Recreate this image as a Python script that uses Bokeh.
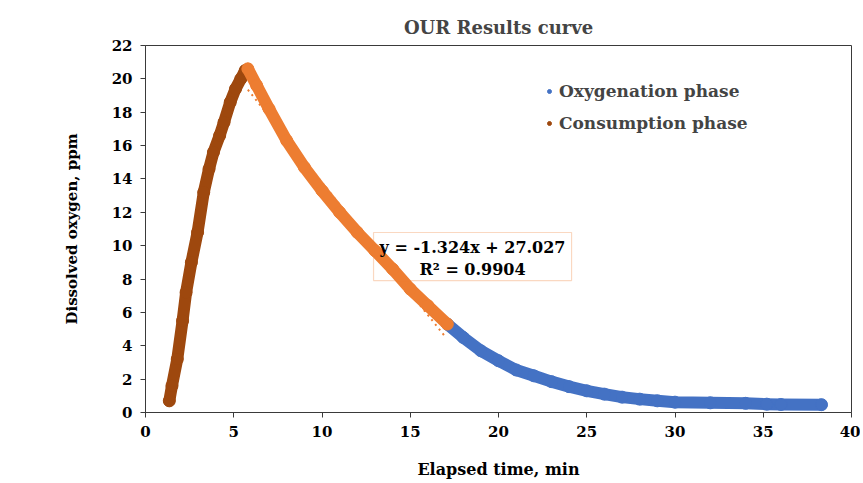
from bokeh.plotting import figure
from bokeh.models import Range1d, Legend, LegendItem, BoxAnnotation, Label, FixedTicker
from bokeh.embed import file_html
from bokeh.resources import INLINE

# ---- data ----
consumption_x = [1.35, 1.5, 1.8, 2.1, 2.3, 2.6, 2.95, 3.3, 3.6, 3.85, 4.2, 4.45, 4.8, 5.1, 5.4, 5.65]
consumption_y = [0.7, 1.6, 3.2, 5.5, 7.2, 9.0, 10.8, 13.2, 14.6, 15.6, 16.6, 17.4, 18.6, 19.4, 20.0, 20.5]

fit_x = [5.8, 6.3, 7.0, 8.0, 9.0, 10.0, 11.0, 12.0, 13.0, 14.0, 15.0, 16.0, 17.1]
fit_y = [20.6, 19.6, 18.2, 16.3, 14.7, 13.3, 12.0, 10.8, 9.7, 8.6, 7.4, 6.4, 5.3]

oxygenation_x = [17.1, 18, 19, 20, 21, 22, 23, 24, 25, 26, 27, 28, 29, 30, 32, 34, 35.2, 36, 38.3]
oxygenation_y = [5.3, 4.5, 3.7, 3.1, 2.55, 2.2, 1.85, 1.55, 1.3, 1.1, 0.92, 0.8, 0.7, 0.62, 0.58, 0.55, 0.5, 0.48, 0.47]

trend_slope = -1.324
trend_intercept = 27.027
trend_range = [5.8, 17.0]

x_ticks = [0, 5, 10, 15, 20, 25, 30, 35, 40]
y_ticks = [0, 2, 4, 6, 8, 10, 12, 14, 16, 18, 20, 22]

BLUE = "#4472C4"
ORANGE = "#ED7D31"
BROWN = "#9E480E"
FONT = "DejaVu Serif"
AXC = "#3a3a3a"

p = figure(width=860, height=482, x_range=Range1d(0, 40), y_range=Range1d(0, 22),
           output_backend="svg", toolbar_location=None, title="OUR Results curve",
           min_border_left=145, min_border_right=9, min_border_top=45, min_border_bottom=70)

p.title.text_font = FONT
p.title.text_font_size = "18px"
p.title.text_font_style = "bold"
p.title.align = "center"
p.title.standoff = 16

p.xgrid.visible = False
p.ygrid.visible = False
p.outline_line_color = AXC
p.outline_line_width = 1

p.xaxis.ticker = FixedTicker(ticks=x_ticks)
p.yaxis.ticker = FixedTicker(ticks=y_ticks)
for ax in (p.xaxis, p.yaxis):
    ax.axis_line_color = AXC
    ax.major_tick_line_color = AXC
    ax.major_tick_out = 5
    ax.major_tick_in = 0
    ax.minor_tick_line_color = None
    ax.major_label_text_font = FONT
    ax.major_label_text_font_style = "bold"
    ax.major_label_text_font_size = "15px"
    ax.major_label_text_color = "black"
    ax.axis_label_text_font = FONT
    ax.axis_label_text_font_style = "bold"
    ax.axis_label_text_color = "black"
p.xaxis.axis_label = "Elapsed time, min"
p.yaxis.axis_label = "Dissolved oxygen, ppm"
p.xaxis.axis_label_text_font_size = "16px"
p.yaxis.axis_label_text_font_size = "15px"
p.xaxis.major_label_standoff = 8
p.yaxis.major_label_standoff = 8
p.xaxis.axis_label_standoff = 20
p.yaxis.axis_label_standoff = 28

# trendline (dotted)
tx = trend_range
ty = [trend_slope * v + trend_intercept for v in tx]
p.line(tx, ty, line_color=ORANGE, line_width=2, line_dash="2 4")

W = 12
p.line(oxygenation_x, oxygenation_y, line_color=BLUE, line_width=W, line_cap="round", line_join="round")
blue_sc = p.scatter(oxygenation_x, oxygenation_y, size=W, color=BLUE)
p.line(consumption_x, consumption_y, line_color=BROWN, line_width=W, line_cap="round", line_join="round")
brown_sc = p.scatter(consumption_x, consumption_y, size=W, color=BROWN)
p.line(fit_x, fit_y, line_color=ORANGE, line_width=W, line_cap="round", line_join="round")
p.scatter(fit_x, fit_y, size=W, color=ORANGE)

# trendline equation box
box = BoxAnnotation(left=12.92, right=24.14, bottom=7.91, top=10.79, fill_alpha=0,
                    line_color=ORANGE, line_width=1.2)
p.add_layout(box)
for txt, yy in (("y = -1.324x + 27.027", 9.89), ("R² = 0.9904", 8.57)):
    p.add_layout(Label(x=18.53, y=yy, text=txt, text_align="center", text_baseline="middle",
                       text_font=FONT, text_font_style="bold", text_font_size="16px",
                       text_color="black"))

legend = Legend(items=[LegendItem(label="Oxygenation phase", renderers=[blue_sc]),
                       LegendItem(label="Consumption phase", renderers=[brown_sc])],
                location=(399, 279))
legend.border_line_color = None
legend.background_fill_alpha = 0
legend.label_text_font = FONT
legend.label_text_font_style = "bold"
legend.label_text_font_size = "17px"
legend.glyph_width = 10
legend.glyph_height = 10
legend.label_standoff = 5
legend.label_height = 20
legend.spacing = 12
legend.padding = 0
legend.margin = 0
p.add_layout(legend)

open("out.html", "w").write(file_html(p, INLINE))
